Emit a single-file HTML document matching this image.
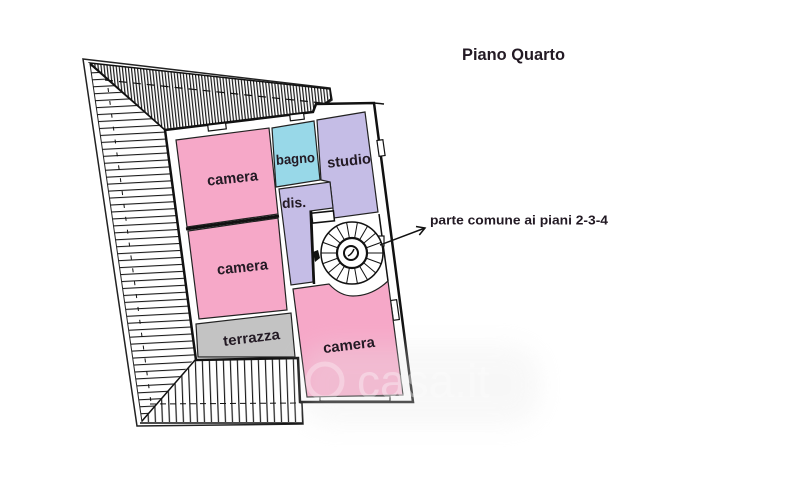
<!DOCTYPE html>
<html><head><meta charset="utf-8"><style>
html,body{margin:0;padding:0;background:#fff;}
svg{display:block;}
text{font-family:"Liberation Sans",sans-serif;font-weight:bold;fill:#231a24;}
</style></head><body>
<svg width="800" height="493" viewBox="0 0 800 493" xmlns="http://www.w3.org/2000/svg">
<defs>
<pattern id="pv" width="3" height="10" patternUnits="userSpaceOnUse" patternTransform="rotate(-6)">
<rect x="0" y="0" width="1.2" height="10" fill="#1a1a1a"/>
</pattern>
<pattern id="ph" width="20" height="7" patternUnits="userSpaceOnUse" patternTransform="rotate(-3)">
<rect x="0" y="0" width="20" height="1.1" fill="#1a1a1a"/>
</pattern>
<pattern id="pb" width="7" height="20" patternUnits="userSpaceOnUse" patternTransform="rotate(-2)">
<rect x="0" y="0" width="1.2" height="20" fill="#1a1a1a"/>
</pattern>
<filter id="bl" x="-30%" y="-30%" width="160%" height="160%"><feGaussianBlur stdDeviation="12"/></filter>
</defs>

<!-- roof outline -->
<polygon points="83,59 330,88 332,100 313,112 165,130 196,359 300,358 303,424 137,426" fill="#fff" stroke="#222" stroke-width="1.5"/>
<line x1="90" y1="64" x2="142" y2="422" stroke="#222" stroke-width="1"/>

<!-- top triangle dense hatch -->
<polygon points="90,63 330,89 331,99 313,112 165,130" fill="url(#pv)" stroke="#111" stroke-width="1.5"/>
<line x1="105" y1="80" x2="322" y2="103" stroke="#111" stroke-width="1.2" stroke-dasharray="8 6"/>

<!-- left roof horizontal hatch -->
<polygon points="90,64 165,130 195,358 142,422" fill="url(#ph)"/>
<line x1="108" y1="88" x2="152" y2="410" stroke="#111" stroke-width="1" stroke-dasharray="4 9"/>
<line x1="90" y1="64" x2="165" y2="130" stroke="#111" stroke-width="1.5"/>
<line x1="196" y1="359" x2="142" y2="421" stroke="#111" stroke-width="1.5"/>

<!-- bottom roof vertical hatch -->
<polygon points="197,359 300,358 303,422 142,422" fill="url(#pb)"/>
<line x1="150" y1="404" x2="302" y2="403" stroke="#111" stroke-width="1" stroke-dasharray="6 4"/>
<line x1="140" y1="423" x2="303" y2="423" stroke="#111" stroke-width="1.5"/>

<!-- building -->
<polygon points="165,130 313,112 316,104 374,103 413,402 300,402 298,358 196,360" fill="#fff" stroke="#111" stroke-width="2.5"/>
<line x1="374" y1="103" x2="384" y2="104" stroke="#111" stroke-width="1.5"/>

<!-- window marks -->
<g stroke="#111" stroke-width="1.2" fill="#fff">
<rect x="208" y="124" width="18" height="6" transform="rotate(-7 217 127)"/>
<rect x="290" y="114" width="14" height="6" transform="rotate(-7 297 117)"/>
<rect x="378" y="140" width="6" height="16" transform="rotate(-8 381 148)"/>
<rect x="392" y="300" width="6" height="20" transform="rotate(-8 395 310)"/>
<rect x="320" y="396" width="70" height="5"/>
</g>

<!-- rooms -->
<polygon points="176,140 269,128 278,214 187,227" fill="#f6a8c8" stroke="#222" stroke-width="1.2"/>
<line x1="186" y1="229" x2="279" y2="216" stroke="#111" stroke-width="3"/>
<polygon points="188,231 278,218 287,310 199,319" fill="#f6a8c8" stroke="#222" stroke-width="1.2"/>
<polygon points="196,324 291,313 295,357 198,357" fill="#c3c3c3" stroke="#222" stroke-width="1.2"/>
<polygon points="272,128 314,121 320,180 276,187" fill="#98d8e8" stroke="#222" stroke-width="1.2"/>
<polygon points="317,120 365,112 378,212 334,218 330,182 321,180" fill="#c5bde6" stroke="#222" stroke-width="1.2"/>
<polygon points="279,189 330,182 333,208 310,211 313,282 291,285" fill="#c5bde6" stroke="#222" stroke-width="1.2"/>
<path d="M293,289 L329,284 Q340,296 353,296 Q372,296 388,281 L403,395 L307,397 Z" fill="#f6a8c8" stroke="#222" stroke-width="1.2"/>

<!-- stair area walls -->
<rect x="312" y="212" width="22" height="10" fill="#fff" stroke="#111" stroke-width="1.5" transform="rotate(-6 323 217)"/>
<line x1="379" y1="214" x2="388" y2="281" stroke="#111" stroke-width="1.5"/>
<line x1="311" y1="211" x2="314" y2="284" stroke="#111" stroke-width="2.5"/>
<path d="M313,252 l5,-2 l2,8 l-5,4 z" fill="#111"/>
<rect x="378" y="236" width="6" height="10" fill="#fff" stroke="#111" stroke-width="1.2"/>

<!-- spiral stair -->
<g stroke="#111" fill="none">
<circle cx="352" cy="253" r="31" stroke-width="1.5" fill="#fff"/>
<g stroke-width="1">
<line x1="367" y1="253" x2="383" y2="253"/>
<line x1="366.1" y1="258.1" x2="381.1" y2="263.6"/>
<line x1="363.5" y1="262.6" x2="375.7" y2="272.9"/>
<line x1="359.5" y1="266" x2="367.5" y2="279.8"/>
<line x1="354.6" y1="267.8" x2="357.4" y2="283.5"/>
<line x1="349.4" y1="267.8" x2="346.6" y2="283.5"/>
<line x1="344.5" y1="266" x2="336.5" y2="279.8"/>
<line x1="340.5" y1="262.6" x2="328.3" y2="272.9"/>
<line x1="337.9" y1="258.1" x2="322.9" y2="263.6"/>
<line x1="337" y1="253" x2="321" y2="253"/>
<line x1="337.9" y1="247.9" x2="322.9" y2="242.4"/>
<line x1="340.5" y1="243.4" x2="328.3" y2="233.1"/>
<line x1="344.5" y1="240" x2="336.5" y2="226.2"/>
<line x1="349.4" y1="238.2" x2="346.6" y2="222.5"/>
<line x1="354.6" y1="238.2" x2="357.4" y2="222.5"/>
<line x1="359.5" y1="240" x2="367.5" y2="226.2"/>
<line x1="363.5" y1="243.4" x2="375.7" y2="233.1"/>
<line x1="366.1" y1="247.9" x2="381.1" y2="242.4"/>
</g>
<circle cx="352" cy="253" r="15" stroke-width="2.2" fill="#fff"/>
<circle cx="351" cy="253" r="7" stroke-width="2"/>
<path d="M348,256 q4,-2 6,-7" stroke-width="1.5"/>
</g>

<!-- arrow -->
<g stroke="#111" stroke-width="1.5" fill="none">
<line x1="380" y1="245" x2="425" y2="228"/>
<polyline points="416,226.5 425,228 419.3,235"/>
</g>

<!-- watermark -->
<rect x="300" y="345" width="240" height="80" rx="30" fill="#e8e8e8" opacity="0.3" filter="url(#bl)"/>
<circle cx="325" cy="381" r="17" fill="none" stroke="#fff" stroke-width="5" opacity="0.3"/>
<text x="357" y="397" font-size="46" style="fill:#fff;font-weight:normal" opacity="0.35">casa.it</text>

<!-- labels -->
<text x="232.5" y="183" font-size="15" text-anchor="middle" textLength="51" lengthAdjust="spacingAndGlyphs" transform="rotate(-6 232.5 178.5)">camera</text>
<text x="295.5" y="163.5" font-size="14" text-anchor="middle" textLength="39" lengthAdjust="spacingAndGlyphs" transform="rotate(-4 295.5 160)">bagno</text>
<text x="349" y="165.5" font-size="14.5" text-anchor="middle" textLength="44" lengthAdjust="spacingAndGlyphs" transform="rotate(-6 349 161)">studio</text>
<text x="294" y="207.5" font-size="14" text-anchor="middle" textLength="24" lengthAdjust="spacingAndGlyphs" transform="rotate(-3 294 202)">dis.</text>
<text x="242.5" y="272" font-size="15" text-anchor="middle" textLength="51" lengthAdjust="spacingAndGlyphs" transform="rotate(-6 242.5 268)">camera</text>
<text x="251.5" y="342.5" font-size="14.5" text-anchor="middle" textLength="57" lengthAdjust="spacingAndGlyphs" transform="rotate(-7 251.5 338)">terrazza</text>
<text x="349" y="350" font-size="15" text-anchor="middle" textLength="52" lengthAdjust="spacingAndGlyphs" transform="rotate(-7 349 345.5)">camera</text>

<text x="462" y="60" font-size="16.5" textLength="103" lengthAdjust="spacingAndGlyphs">Piano Quarto</text>
<text x="430" y="224.5" font-size="12.5" textLength="178" lengthAdjust="spacingAndGlyphs">parte comune ai piani 2-3-4</text>
</svg>
</body></html>
